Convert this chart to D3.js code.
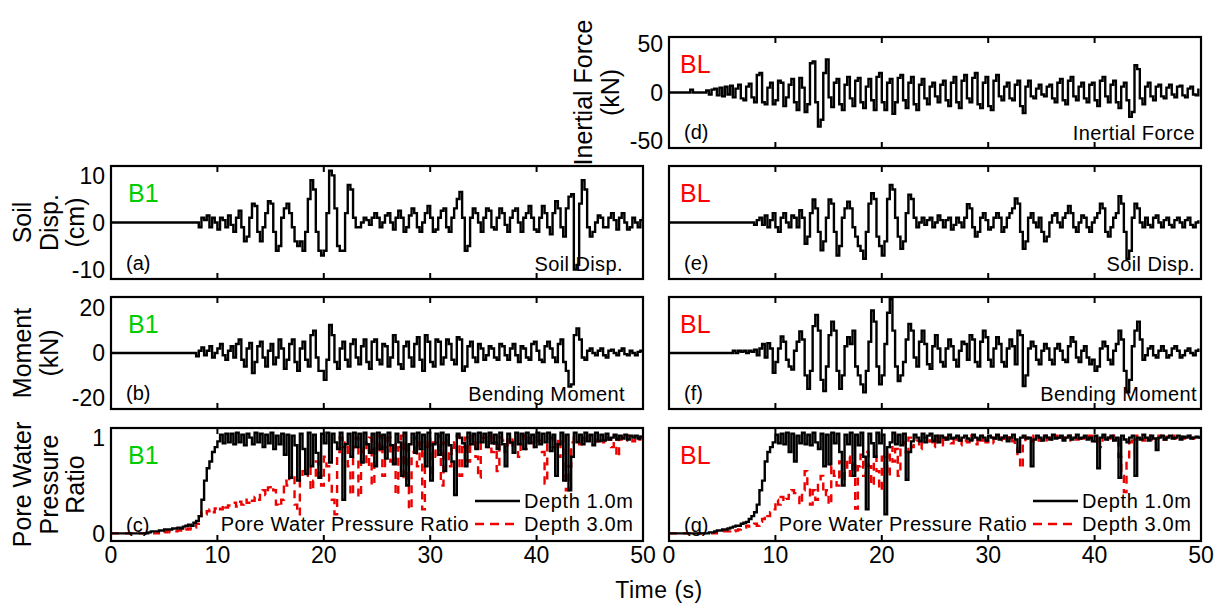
<!DOCTYPE html>
<html>
<head>
<meta charset="UTF-8">
<script src="https://cdnjs.cloudflare.com/ajax/libs/d3/7.8.2/d3.min.js"></script>
<style>
  body { margin: 0; background: #fff; }
  svg { display: block; font-family: "Liberation Sans", Arial, sans-serif; }
</style>
</head>
<body>
<svg width="1222" height="610"></svg>
<script>
// sampling interval of all digitised records (s)
const dt = 0.25;
const timeTicks = [0, 10, 20, 30, 40, 50];

// (a) soil displacement, B1 (cm)
const soilB1Start = 8;
const soilB1 = [0,-1,1,0.5,1.5,-1,1,0,-1.5,1,0.5,-1,1.5,-0.5,-2,
  1,2.5,-1,-4,-3,1,4,3.5, -2,-4,-1,2,4.5,4,-2,-6, -5,1,3,4,2,-1,-4,-5,
  -4,-6,-2,5,9,7,-2,-6, -7,-6,2,11,10,3,-5,-6, -6,2,8,7,1,-1,-1,0,
  1,0.5,-0.5,1,2,1,-1,0, 1.5,2,0,-1.5,1,2.5,1,-2, -1,1.5,3,2,-1,-2,0,2,
  3.5,1,-2,-1.5,1,2.5,3,-1, -2,1,3,5,6.5,1,-6,-5, 1,3,2,0,-2,1,3,2.5,
  -1,-1.5,1,3,2,-0.5,-2,1, 2.5,3,0,-2,1,2,3.5,1, -1.5,-2,1,3.5,2,-1,-2.5,2,
  4.5,3,-1,-3,3,5.5,6,-10, -9,4,9,7,-1,-3,-2,0, 1.5,1,-1,-1,1,2,0.5,-1.5,
  1,2,0,-1.5,-1,1,0,-1, 0.5,1,-0.5,0.5];

// (b) bending moment, B1 (kN)
const momB1Start = 7.75;
const momB1 = [0,-1.5,1,2.5,-1,1,3,-2,0,2,4,-1,-3,1,3,-2,
  4,6,-3,-6,2,4.5,-9,-4, 3,5,-2,-6,1,4,-5,-2, 6,2,-7,-3,4,6,-4,-8,
  2,5,-3,-6,8,10,-2,-8, -8,-12,-3,12.5,8,-4,-7,2, 5,-3,-6,4,6,-2,-5,3,
  6,-4,-7,5,6,-3,-5,4, 3,-6,-2,8,5,-5,-7,3, 5,-2,-6,4,7,-3,-8,8,
  5,-4,-6,6,5,-5,-2,6, 4,-3,-5,7,6,-8,-6,3, 5,-2,-4,4,2,-3,-1,3,
  2,-2,-3,4,3,-1,-3,2, 4,-1,-4,3,2,-2,-3,4, 5,1,-3,-4,3,5,2,-2,
  -4,4,6,-4,-8,-15,-14,8, 11,6,-2,-3,1,2,0,-1, 1,2,-1,-2,1,1.5,0,-1,
  1,2,-0.5,-1,1,0,-1,0.5,1,0];

// (c) pore water pressure ratio, B1
const pwpB1ShallowStart = 3;
const pwpB1Shallow = [0,0,0.01,0.02,0.02,0.02,0.03,0.03,
  0.04,0.04,0.04,0.05,0.05,0.06,0.05,0.07, 0.08,0.09,0.08,0.11,0.13,0.18,0.35,0.55,
  0.68,0.75,0.85,0.9,0.96,1.03,0.94,1.04, 0.95,1.04,0.93,1.05,0.95,1.03,0.92,1.04,
  1.0,0.93,1.05,0.95,1.04,0.9,1.03,0.94, 1.05,0.88,1.02,0.93,1.04,0.82,1.03,0.58,
  1.02,0.92,0.55,1.04,0.88,0.62,1.05,0.7, 1.03,0.84,0.58,1.04,0.94,1.05,0.74,1.04,
  0.95,0.88,1.05,0.35,0.93,1.04,0.8,1.05, 0.9,1.04,0.74,1.05,0.93,0.84,1.04,0.7,
  1.05,0.88,1.03,0.78,1.05,0.92,0.72,1.04, 0.95,0.6,1.05,0.5,0.93,1.04,0.84,1.05,
  0.88,1.03,0.7,1.05,0.55,0.93,1.04,0.82, 1.05,0.65,1.03,0.92,0.75,0.4,1.04,1.0,
  0.94,0.7,1.05,0.93,1.04,0.88,1.05,0.95, 1.04,0.9,1.05,0.94,1.03,0.88,1.05,0.93,
  0.7,1.04,0.95,0.84,1.05,0.93,1.04,0.88, 1.05,0.94,1.03,0.9,1.05,0.93,1.04,0.95,
  1.05,0.86,1.03,0.6,0.93,1.05,0.55,1.03, 0.45,0.8,1.05,0.95,1.03,0.93,1.05,0.96,
  1.03,0.92,1.05,0.96,1.03,0.97,1.04,0.98, 1.0,1.03,0.98,1.02,0.99,1.03,0.98,1.02,
  1.0,1.02,0.99,1.01,1.0];
const pwpB1DeepStart = 4;
const pwpB1Deep = [0,0,0.01,0,0.01,0.02,0.01,0.02,
  0.02,0.03,0.03,0.02,0.04,0.05,0.04,0.06, 0.1,0.18,0.22,0.2,0.23,0.25,0.22,0.26,
  0.28,0.25,0.3,0.27,0.29,0.3,0.32,0.28, 0.33,0.3,0.35,0.32,0.36,0.34,0.38,0.35,
  0.42,0.45,0.4,0.48,0.5,0.45,0.3,0.28, 0.35,0.55,0.5,0.58,0.62,0.3,0.2,0.55,
  0.65,0.6,0.7,0.45,0.55,0.75,0.6,0.5, 0.8,0.7,0.55,0.35,0.2,0.85,1.0,0.9,
  0.95,0.7,0.4,0.9,1.0,0.38,0.85,0.95, 0.7,1.0,0.5,0.95,0.85,1.02,0.6,0.9,
  1.0,0.75,0.95,0.4,0.9,1.02,0.55,0.95, 0.25,0.85,1.0,0.7,0.95,0.25,0.9,1.0,
  0.6,0.95,0.8,1.02,0.5,0.95,1.0,0.7, 0.95,0.85,1.02,0.6,0.9,1.0,0.75,0.95,
  1.02,0.8,0.58,0.95,1.0,0.9,1.02,0.85, 0.95,0.65,1.0,0.97,0.85,1.02,0.9,0.98,
  1.0,0.8,0.95,1.02,0.88,1.0,0.95,0.9, 1.02,0.97,0.85,0.52,0.95,1.0,0.9,0.98,
  0.8,1.02,0.6,0.45,0.7,0.95,1.0,0.97, 0.93,1.0,0.97,0.95,1.02,0.98,0.96,1.0,
  0.97,0.95,1.0,0.98,0.9,1.02,0.8,0.98, 1.0,0.97,1.02,0.99,0.96,1.0,0.98,1.01,
  1.0];

// (d) inertial force, BL (kN)
const inertBLStart = 1.75;
const inertBL = [0,3,0,0,0,0,0,2,
  -2,3,4,-3,5,-4,6,-2, 7,-5,4,8,-6,-8,6,9, -5,-10,18,20,-10,-12,5,10,
  -12,-8,12,10,-14,-5,8,14, -10,-18,15,5,-20,-12,30,32, -10,-35,-28,20,34,-5,-15,10,
  14,-12,-18,8,16,-6,-14,12, 15,-10,-16,6,14,-8,-18,16, 20,-10,-18,10,14,-22,-10,15,
  18,-8,-16,10,16,-12,-18,8, 14,-6,-12,6,10,-4,-10,8, 12,-8,-14,10,16,-10,-16,12,
  18,-6,-10,15,20,-12,-16,10, 16,-14,-18,12,18,-4,-8,6, 10,-6,-8,8,12,-14,-21,6,
  12,-4,-6,4,8,-2,-4,6, 8,-6,-10,10,14,-8,-12,12, 16,-4,-8,6,10,-6,-10,8,
  10,-8,-14,12,16,-4,-10,8, 12,-10,-16,6,10,-8,-25,-20, 28,24,-6,-12,6,10,-4,-8,
  6,8,-4,-6,5,8,-2,-5, 6,7,-3,-5,4,6,-2,-3,4];

// (e) soil displacement, BL (cm)
const soilBLStart = 7.75;
const soilBL = [0,-0.5,0.5,1,-0.5,1.5,-1,0.5,
  2,-1,-2,1,2,0,-1,1.5, 1,-1,2.6,1,-4.5,-3,2,4.9, 3,-2,-5.9,-4,1,4.9,4,-2,
  -7,-5,1,3,4.4,3,-1,-3, -5,-6,-7.7,-2,4,6.2,5,-3, -5,-7,-4,5,8,7,1,-3,
  -5.6,-4,2,5.9,5,1,-1,0, 1,-0.5,0.5,1,-1,0,1.5,0.5, -1,0.5,1,-1.5,-0.5,1,0,-1,
  1,3.9,3,-1,-3,-2,1,2, 0.5,-1.5,-1,1,2,1,-2,-1, 1,2,3,5.1,4,-2,-5.6,-4,
  1,2,0,-1,1,-2,-4,-3, 0,1.5,2,0,-1,1,2,3.5, 2,-1,-2,0,1.5,1,-1,-2,
  0,1,2,4,3,-2,-3,-1, 1,2,5.6,4,-2,-7.7,-6,1, 4,3,0,-1,1,-0.5,-1,1,
  1.5,0,-1,0.5,1,-0.5,-1,0.5, 1,0,-1,0.5,1,-0.5,-1,0,0.5];

// (f) bending moment, BL (kN)
const momBLStart = 5.75;
const momBL = [0,1,0,1,0.5,1,0,1,
  0.5,1.5,-1,2,4,-2,4.4,2, -8.8,-4,2,7.4,5,-3,-6,-7.4, 1,5,9.6,6,-10,-16,-8,12,
  17,10,-12,-17,-6,8,14,10, -8,-16,-10,3,7,4,10,-6, -10,-14,-17.6,-8,5,19,14,-6,
  -14,-10,4,18,24,10,-6,-12.5, -10,-4,6,13,10,-2,-6,5, 10,4,-5,-7,3,8,2,-4,
  -6,2,6,3,-3,-6,1,5, 4,-3,8,6,-4,-6,5,10, 7,-3,-6,2,7,4,-4,-6,
  2,6,3,-5,10,8,-14.7,-10, 2,5,3,-3,-5,1,4,2, -3,-5,2,4,1,-3,-4,3,
  7,5,-2,-4,1,3,-2,-5, -3,-8,-6,2,5,3,-3,-5, 1,4,10,6,-8,-17.6,-12,3,
  10,14,6,-3,-1,2,3,-1, -2,1,3,1,-2,-1,2,3, 1,-2,-1,1,2,0,-1,1,2];

// (g) pore water pressure ratio, BL
const pwpBLShallowStart = 3.5;
const pwpBLShallow = [0,0.01,0.01,0.02,0.03,0.03,0.04,0.04,
  0.05,0.06,0.07,0.08,0.08,0.1,0.11,0.12, 0.15,0.18,0.22,0.3,0.45,0.55,0.75,0.85,
  0.9,0.95,1.03,0.94,1.04,0.93,1.05,0.85, 1.04,0.75,1.02,0.94,1.05,0.93,1.03,0.92,
  1.05,0.95,0.88,1.04,0.7,1.03,0.72,1.05, 0.94,1.04,0.85,0.5,1.03,0.93,1.05,0.6,
  1.03,0.92,1.05,0.8,0.25,1.04,0.94,0.8, 1.05,0.94,1.03,0.2,0.9,0.95,1.05,0.93,
  1.03,0.92,1.04,0.56,0.85,0.96,1.03,1.0, 0.96,1.04,0.95,1.02,1.04,0.96,1.02,0.95,
  1.02,1.0,0.98,1.03,0.99,1.0,1.02,0.97, 1.0,1.02,0.99,0.97,1.03,1.0,0.98,1.02,
  1.0,0.97,1.02,1.0,0.99,1.03,0.98,1.0, 1.02,0.96,1.0,1.03,0.98,0.85,1.0,1.02,
  0.99,1.0,0.7,0.98,1.02,1.0,0.97,1.02, 1.0,0.98,1.03,0.99,1.0,1.02,0.97,1.0,
  1.02,0.98,1.0,1.03,0.99,1.0,1.02,0.98, 1.0,0.96,1.02,0.68,1.0,1.03,0.98,1.0,
  1.02,0.97,1.0,0.58,1.02,0.98,0.95,1.0, 1.02,0.6,1.0,0.98,1.03,1.0,0.97,1.02,
  0.99,0.87,1.0,1.02,0.98,1.0,1.02,0.99, 1.0,1.02,0.98,1.01,1.0,1.02,0.99,1.0,
  1.01,1.0,1.0];
const pwpBLDeepStart = 4;
const pwpBLDeep = [0,0,0.01,0.01,0.02,0.02,0.02,0.03,
  0.02,0.03,0.04,0.05,0.06,0.08,0.07,0.09, 0.1,0.08,0.12,0.15,0.2,0.18,0.22,0.25,
  0.35,0.3,0.38,0.33,0.36,0.4,0.45,0.42, 0.38,0.3,0.45,0.65,0.5,0.3,0.45,0.35,
  0.55,0.6,0.4,0.45,0.3,0.7,0.6,0.5, 0.75,0.55,0.65,0.8,0.6,0.75,0.26,0.7,
  0.82,0.6,0.85,0.7,0.5,0.8,0.65,0.45, 0.8,0.85,0.6,0.9,0.75,0.88,0.6,0.92,
  0.95,0.85,1.0,0.9,0.92,0.97,0.88,0.95, 1.0,0.93,0.97,0.9,1.02,0.95,0.98,0.92,
  1.0,0.96,0.94,1.02,0.98,0.92,1.0,0.97, 0.95,1.02,0.98,0.93,1.0,0.97,1.02,0.95,
  0.98,1.0,0.94,1.02,0.97,1.0,0.95,0.99, 1.02,0.96,0.9,0.8,0.68,0.95,1.0,0.98,
  0.96,1.02,1.0,0.97,0.99,1.02,0.95,1.0, 0.98,1.02,1.0,0.96,1.0,0.98,1.02,0.97,
  1.0,0.98,1.02,0.99,1.0,0.97,1.02,1.0, 0.96,1.0,0.9,1.02,0.98,1.0,0.95,1.02,
  0.98,0.8,0.6,0.43,0.75,0.95,1.0,0.98, 1.02,1.0,0.97,1.0,1.02,0.98,1.0,0.99,
  1.02,1.0,0.98,1.01,1.0,1.02,0.99,1.0, 1.01,0.99,1.0,1.02,1.0,0.99,1.01,1.0,
  1.0];

const legendNames = ["Depth 1.0m", "Depth 3.0m"];

// helper: record -> [t, v] points, flat zero before the record starts
function record(start, vals) {
  const pts = [[0, 0]];
  vals.forEach((v, i) => pts.push([start + i * dt, v]));
  return pts;
}

const svg = d3.select("svg");
const cols = [[111, 643], [669, 1201]];
const rows = [[37, 148], [166, 279], [297, 409], [428, 541]];

const panels = [
  { col: 0, row: 1, tag: "(a)", site: "B1", name: "Soil Disp.", nameRight: 20,
    domain: [-12, 12], yticks: [-10, 0, 10], ylabel: ["Soil", "Disp.", "(cm)"],
    series: [{ pts: record(soilB1Start, soilB1) }] },
  { col: 0, row: 2, tag: "(b)", site: "B1", name: "Bending Moment", nameRight: 18,
    domain: [-25, 25], yticks: [-20, 0, 20], ylabel: ["Moment", "(kN)"],
    series: [{ pts: record(momB1Start, momB1) }] },
  { col: 0, row: 3, tag: "(c)", site: "B1", pwp: true, xlabels: true,
    domain: [-0.08, 1.1], yticks: [0, 1], ylabel: ["Pore Water", "Pressure", "Ratio"],
    series: [{ pts: record(pwpB1DeepStart, pwpB1Deep), red: true },
             { pts: record(pwpB1ShallowStart, pwpB1Shallow) }] },
  { col: 1, row: 0, tag: "(d)", site: "BL", name: "Inertial Force", nameRight: 6,
    domain: [-57, 57], yticks: [-50, 0, 50], ylabel: ["Inertial Force", "(kN)"],
    series: [{ pts: record(inertBLStart, inertBL) }] },
  { col: 1, row: 1, tag: "(e)", site: "BL", name: "Soil Disp.", nameRight: 6,
    domain: [-12, 12], series: [{ pts: record(soilBLStart, soilBL) }] },
  { col: 1, row: 2, tag: "(f)", site: "BL", name: "Bending Moment", nameRight: 4,
    domain: [-25, 25], series: [{ pts: record(momBLStart, momBL) }] },
  { col: 1, row: 3, tag: "(g)", site: "BL", pwp: true, xlabels: true,
    domain: [-0.08, 1.1],
    series: [{ pts: record(pwpBLDeepStart, pwpBLDeep), red: true },
             { pts: record(pwpBLShallowStart, pwpBLShallow) }] }
];

panels.forEach((p, k) => {
  const [x0, x1] = cols[p.col];
  const [y0, y1] = rows[p.row];
  const x = d3.scaleLinear().domain([0, 50]).range([x0, x1]);
  const y = d3.scaleLinear().domain(p.domain).range([y1, y0]);
  const g = svg.append("g");

  g.append("clipPath").attr("id", "clip" + k)
    .append("rect").attr("x", x0).attr("y", y0).attr("width", x1 - x0).attr("height", y1 - y0);

  const line = d3.line().x(d => x(d[0])).y(d => y(d[1])).curve(d3.curveStepAfter);
  p.series.forEach(s => {
    g.append("path").datum(s.pts)
      .attr("clip-path", `url(#clip${k})`)
      .attr("fill", "none")
      .attr("stroke", s.red ? "#ee0000" : "#000")
      .attr("stroke-width", 2.4)
      .attr("stroke-dasharray", s.red ? "8,6" : null)
      .attr("d", line);
  });

  // frame and inward ticks
  g.append("rect").attr("x", x0).attr("y", y0).attr("width", x1 - x0).attr("height", y1 - y0)
    .attr("fill", "none").attr("stroke", "#000").attr("stroke-width", 2.2);
  [10, 20, 30, 40].forEach(t => {
    g.append("line").attr("x1", x(t)).attr("x2", x(t)).attr("y1", y0).attr("y2", y0 + 6)
      .attr("stroke", "#000").attr("stroke-width", 2);
    g.append("line").attr("x1", x(t)).attr("x2", x(t)).attr("y1", y1).attr("y2", y1 - 6)
      .attr("stroke", "#000").attr("stroke-width", 2);
  });

  if (p.yticks) {
    g.selectAll(".yt").data(p.yticks).join("text")
      .attr("x", x0 - 6).attr("y", d => y(d)).attr("dy", "0.36em")
      .attr("text-anchor", "end").attr("font-size", 23).text(d => d);
  }
  if (p.xlabels) {
    g.selectAll(".xt").data(timeTicks).join("text")
      .attr("x", d => x(d)).attr("y", y1 + 22)
      .attr("text-anchor", "middle").attr("font-size", 23).text(d => d);
  }
  if (p.ylabel) {
    const cx = p.col === 0 ? 22 : 583;
    const cy = (y0 + y1) / 2;
    p.ylabel.forEach((l, i) => {
      const lx = cx + i * 26.5;
      g.append("text").attr("x", lx).attr("y", cy).attr("dy", "0.36em")
        .attr("transform", `rotate(-90,${lx},${cy})`)
        .attr("text-anchor", "middle").attr("font-size", 25).text(l);
    });
  }

  g.append("text").attr("x", x0 + (p.site === "B1" ? 17 : 11)).attr("y", y0 + 27)
    .attr("dy", "0.36em").attr("font-size", 25)
    .attr("fill", p.site === "B1" ? "#00cc00" : "#ff0000").text(p.site);
  g.append("text").attr("x", x0 + 15).attr("y", y1 - 16).attr("dy", "0.36em")
    .attr("font-size", 20).text(p.tag);

  if (p.name) {
    g.append("text").attr("x", x1 - p.nameRight).attr("y", y1 - 15).attr("dy", "0.36em")
      .attr("text-anchor", "end").attr("font-size", 20).attr("letter-spacing", 0.4).text(p.name);
  }

  if (p.pwp) {
    const ly = [y1 - 40, y1 - 17];
    const lx = x1 - 168;
    g.append("text").attr("x", lx - 6).attr("y", ly[1]).attr("dy", "0.36em")
      .attr("text-anchor", "end").attr("font-size", 20).attr("letter-spacing", 0.4)
      .text("Pore Water Pressure Ratio");
    legendNames.forEach((n, i) => {
      g.append("line").attr("x1", lx).attr("x2", lx + 45).attr("y1", ly[i]).attr("y2", ly[i])
        .attr("stroke", i ? "#ee0000" : "#000").attr("stroke-width", 2.4)
        .attr("stroke-dasharray", i ? "9,6" : null);
      g.append("text").attr("x", lx + 49).attr("y", ly[i]).attr("dy", "0.36em")
        .attr("font-size", 20).attr("letter-spacing", 0.6).text(n);
    });
  }
});

svg.append("text").attr("x", 659).attr("y", 598).attr("text-anchor", "middle")
  .attr("font-size", 23).attr("letter-spacing", 0.5).text("Time (s)");
</script>
</body>
</html>
